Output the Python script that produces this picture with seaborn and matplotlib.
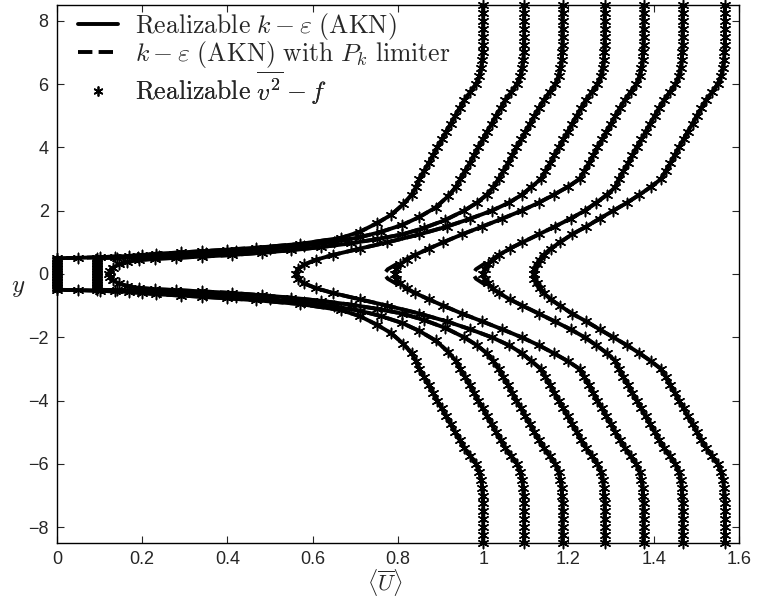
import numpy as np
import pandas as pd
import matplotlib
matplotlib.use("Agg")
import matplotlib.pyplot as plt
from matplotlib.lines import Line2D
import seaborn as sns

# ---------------- data ----------------
# far-field position of each offset profile
FAR = [1.000, 1.096, 1.186, 1.285, 1.376, 1.468, 1.567]

# common outer-region deficit (profiles are near identical there)
Y_OUTER = [3.0, 3.25, 3.5, 3.75, 4.0, 4.25, 4.5, 4.75, 5.0, 5.25, 5.5, 5.75,
           6.0, 6.25, 6.5, 6.75, 7.0, 7.25, 7.5, 7.75, 8.0, 8.25, 8.5]
DEF_OUTER = [0.150, 0.139, 0.128, 0.118, 0.108, 0.097, 0.087, 0.076, 0.066,
             0.055, 0.044, 0.030, 0.017, 0.009, 0.005, 0.002, 0.001, 0.0,
             0.0, 0.0, 0.0, 0.0, 0.0]

# inner region (upper half, y < 3) of each profile: Realizable k-eps (AKN)
P0_Y = [0, 0.05, 0.1, 0.15, 0.2, 0.25, 0.3, 0.35, 0.4, 0.45, 0.5, 0.51, 0.53,
        0.55, 0.57, 0.6, 0.64, 0.68, 0.72, 0.77, 0.83, 0.95, 1.14, 1.33, 1.6,
        1.87, 2.2, 2.5, 2.75]
P0_X = [0, 0, 0, 0, 0, 0, 0, 0, 0, 0, 0, 0.05, 0.10, 0.135, 0.17, 0.2, 0.233,
        0.29, 0.34, 0.40, 0.468, 0.57, 0.666, 0.71, 0.75, 0.784, 0.812, 0.832,
        0.842]
P1_Y = [0, 0.05, 0.1, 0.15, 0.2, 0.25, 0.3, 0.35, 0.4, 0.45, 0.5, 0.51, 0.53,
        0.56, 0.6, 0.65, 0.72, 0.8, 0.9, 1.02, 1.16, 1.33, 1.55, 1.8, 2.1,
        2.45, 2.75]
P1_X = [0.095, 0.095, 0.095, 0.095, 0.095, 0.095, 0.095, 0.095, 0.095, 0.095,
        0.095, 0.14, 0.19, 0.24, 0.29, 0.35, 0.42, 0.5, 0.58, 0.65, 0.71, 0.76,
        0.81, 0.85, 0.888, 0.917, 0.936]
P2_Y = [0, 0.1, 0.2, 0.3, 0.38, 0.44, 0.48, 0.51, 0.55, 0.6, 0.67, 0.75, 0.85,
        0.97, 1.1, 1.25, 1.45, 1.7, 2.0, 2.25, 2.5, 2.75]
P2_X = [0.122, 0.124, 0.131, 0.145, 0.165, 0.192, 0.23, 0.28, 0.34, 0.41, 0.48,
        0.55, 0.62, 0.69, 0.75, 0.81, 0.86, 0.91, 0.955, 0.985, 1.008, 1.024]
WAKE_Y = [0, 0.15, 0.3, 0.45, 0.6, 0.8, 1.0, 1.25, 1.5, 1.75, 2.0, 2.25, 2.5, 2.75]
P3_X = [0.56, 0.565, 0.58, 0.608, 0.647, 0.71, 0.775, 0.85, 0.915, 0.97,
        1.02, 1.06, 1.09, 1.113]
P4_X = [0.793, 0.796, 0.805, 0.82, 0.84, 0.872, 0.906, 0.95, 0.998, 1.045,
        1.09, 1.13, 1.165, 1.198]
P5_X = [1.0, 1.003, 1.01, 1.022, 1.037, 1.062, 1.092, 1.13, 1.168, 1.205,
        1.238, 1.265, 1.29, 1.31]
P6_X = [1.118, 1.12, 1.125, 1.132, 1.142, 1.158, 1.18, 1.208, 1.242, 1.273,
        1.305, 1.337, 1.366, 1.393]

# k-eps (AKN) with Pk limiter: differs only near the centreline of P4, P5
P4_LIM_X = [0.767, 0.776, 0.795, 0.817, 0.84, 0.872, 0.906, 0.95, 0.998,
            1.045, 1.09, 1.13, 1.165, 1.198]
P5_LIM_X = [0.976, 0.983, 1.0, 1.019, 1.037, 1.062, 1.092, 1.13, 1.168,
            1.205, 1.238, 1.265, 1.29, 1.31]

XTICKS = [0, 0.2, 0.4, 0.6, 0.8, 1.0, 1.2, 1.4, 1.6]
XTICK_LABELS = ["0", "0.2", "0.4", "0.6", "0.8", "1", "1.2", "1.4", "1.6"]
YTICKS = [-8, -6, -4, -2, 0, 2, 4, 6, 8]

LABELS = [r"$\mathrm{Realizable}\ k-\varepsilon\ \mathrm{(AKN)}$",
          r"$k-\varepsilon\ \mathrm{(AKN)\ with}\ P_k\ \mathrm{limiter}$",
          r"$\mathrm{Realizable}\ \overline{v^2}-f$"]


def build(inner):
    rows = []
    for i, (ys, xs) in enumerate(inner):
        uy = list(ys) + Y_OUTER
        ux = list(xs) + [FAR[i] - d for d in DEF_OUTER]
        # full profile from bottom to top (symmetric wake)
        fy = [-v for v in uy[:0:-1]] + uy
        fx = ux[:0:-1] + ux
        for k, (a, b) in enumerate(zip(fx, fy)):
            rows.append({"profile": i, "order": k, "x": a, "y": b})
    return pd.DataFrame(rows)


inner_ke = [(P0_Y, P0_X), (P1_Y, P1_X), (P2_Y, P2_X), (WAKE_Y, P3_X),
            (WAKE_Y, P4_X), (WAKE_Y, P5_X), (WAKE_Y, P6_X)]
inner_lim = [(P0_Y, P0_X), (P1_Y, P1_X), (P2_Y, P2_X), (WAKE_Y, P3_X),
             (WAKE_Y, P4_LIM_X), (WAKE_Y, P5_LIM_X), (WAKE_Y, P6_X)]

df_ke = build(inner_ke)
df_lim = build(inner_lim)
df_v2f = build(inner_ke)

# ---------------- plot ----------------
sns.set_style("ticks")
plt.rcParams["font.family"] = ["Liberation Sans", "DejaVu Sans"]
plt.rcParams["mathtext.fontset"] = "cm"

fig = plt.figure(figsize=(7.57, 6.0), dpi=100)
ax = fig.add_axes([0.0753, 0.095, 0.9009, 0.8967])

LW = 2.8
sns.lineplot(data=df_ke, x="x", y="y", units="profile", estimator=None,
             sort=False, color="black", linewidth=LW, ax=ax, clip_on=False)
sns.lineplot(data=df_lim, x="x", y="y", units="profile", estimator=None,
             sort=False, color="black", linewidth=LW, linestyle="--",
             ax=ax, clip_on=False)
STAR = (6, 2, 0)
sns.scatterplot(data=df_v2f, x="x", y="y", marker=STAR, color="black",
                s=55, linewidth=1.1, ax=ax, clip_on=False, legend=False)

ax.set_xlim(0, 1.6)
ax.set_ylim(-8.5, 8.5)
ax.set_xticks(XTICKS)
ax.set_xticklabels(XTICK_LABELS)
ax.set_yticks(YTICKS)
ax.tick_params(direction="in", top=True, right=True, length=5, width=0.8,
               labelsize=13, pad=6)
for sp in ax.spines.values():
    sp.set_linewidth(1.0)
    sp.set_color("black")

ax.set_xlabel(r"$\langle\overline{U}\rangle$", fontsize=16)
ax.xaxis.set_label_coords(0.481, -0.044)
ax.set_ylabel(r"$y$", fontsize=18, rotation=0, va="center", ha="center")
ax.yaxis.set_label_coords(-0.057, 0.475)

# legend: one entry per row, rows placed as in the reference
handles = [Line2D([], [], color="black", lw=LW),
           Line2D([], [], color="black", lw=LW, linestyle="--"),
           Line2D([], [], color="black", lw=0, marker=STAR, markersize=7,
                  markeredgewidth=1.1)]
ROW_Y = [0.960, 0.908, 0.846]
for h, lab, yy in zip(handles, LABELS, ROW_Y):
    lg = ax.legend([h], [lab], loc="center left", frameon=False,
                   fontsize=18.5, handlelength=1.56, handletextpad=0.66,
                   borderaxespad=0.0, borderpad=0.0,
                   bbox_to_anchor=(0.031, yy))
    ax.add_artist(lg)

fig.savefig("out.png", dpi=100)
